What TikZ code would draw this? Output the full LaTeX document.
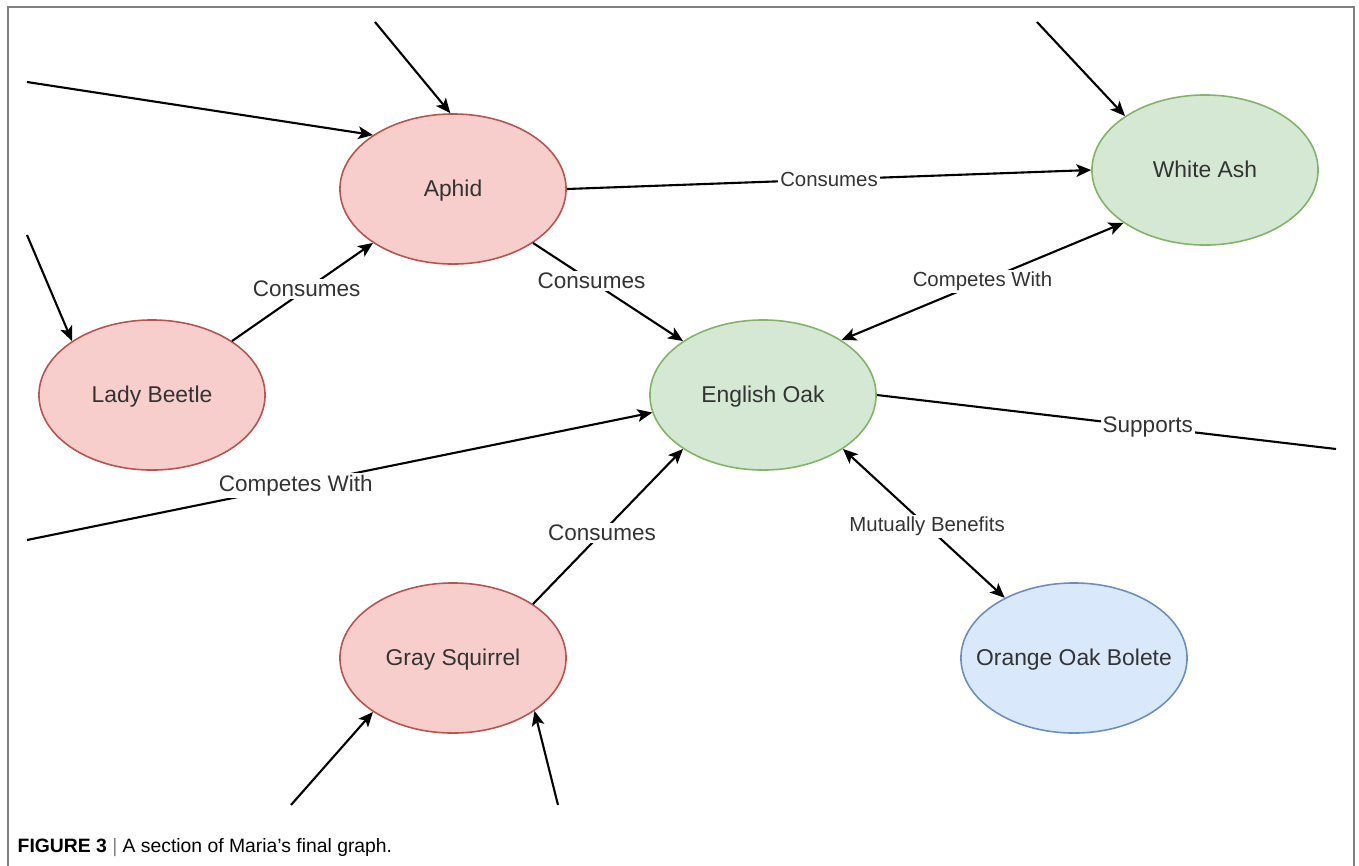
\documentclass[tikz,border=0pt]{standalone}
\usepackage{fontspec}
\setmainfont{Liberation Sans}
\usepackage{xcolor}
\usetikzlibrary{shapes.geometric,arrows.meta}
\definecolor{redfill}{HTML}{F8CECC}
\definecolor{redline}{HTML}{B85450}
\definecolor{greenfill}{HTML}{D5E8D4}
\definecolor{greenline}{HTML}{82B366}
\definecolor{bluefill}{HTML}{DAE8FC}
\definecolor{blueline}{HTML}{6C8EBF}
\definecolor{txtgray}{HTML}{333333}
\definecolor{framegray}{HTML}{808080}

\begin{document}
\begin{tikzpicture}[x=0.01cm,y=-0.01cm,
		>={Stealth[length=4.2pt,width=3.6pt,inset=1pt]},
		species/.style={ellipse,draw,line width=0.45pt,minimum width=2.26cm,minimum height=1.5cm,
			inner xsep=-8pt,inner ysep=0pt,text height=4.4pt,text depth=0pt,
			text=txtgray,font=\fontsize{6.5}{8}\selectfont},
		consumer/.style={species,fill=redfill,draw=redline},
		plant/.style={species,fill=greenfill,draw=greenline},
		fungus/.style={species,fill=bluefill,draw=blueline},
		plainlink/.style={line width=0.6pt},
		link/.style={plainlink,->},
		mutual/.style={plainlink,<->},
		tag/.style={fill=white,inner sep=0.6pt,text=txtgray,font=\fontsize{6.4}{7.5}\selectfont},
		smalltag/.style={tag,font=\fontsize{5.8}{7}\selectfont}]
		\useasboundingbox (0,0) rectangle (1359,866);
		\draw [framegray, line width=0.35pt] (8,866) -- (8,7) -- (1354,7) -- (1354,866);

		\node [consumer] (aphid) at (453,189) {Aphid};
		\node [plant] (ash) at (1205,170) {White Ash};
		\node [consumer] (beetle) at (152,395) {Lady Beetle};
		\node [plant] (oak) at (763,395) {English Oak};
		\node [consumer] (squirrel) at (453,658) {Gray Squirrel};
		\node [fungus] (bolete) at (1074,658) {Orange Oak Bolete};

		\coordinate (inA) at (27,82);
		\coordinate (inB) at (375,22);
		\coordinate (inC) at (27,235);
		\coordinate (inD) at (1037,22);
		\coordinate (inE) at (27,540);
		\coordinate (outF) at (1336,449);
		\coordinate (inG) at (291,805);
		\coordinate (inH) at (558,805);

		\draw [link] (inA) -- (aphid.146);
		\draw [link] (inB) -- (aphid.92);
		\draw [link] (inC) -- (beetle.146);
		\draw [link] (inD) -- (ash.146);
		\draw [link] (beetle.34) -- node [tag, pos=0.53] {Consumes} (aphid.214);
		\draw [link] (aphid.east) -- node [smalltag] {Consumes} (ash.west);
		\draw [link] (aphid.326) -- node [tag, pos=0.39] {Consumes} (oak.146);
		\draw [mutual] (oak.35) -- node [smalltag] {Competes With} (ash.213);
		\draw [plainlink] (oak.east) -- node [tag, pos=0.59] {Supports} (outF);
		\draw [link] (inE) -- node [tag, pos=0.43] {Competes With} (oak.189);
		\draw [link] (squirrel.34) -- node [tag, pos=0.46] {Consumes} (oak.214);
		\draw [mutual] (oak.326) -- node [smalltag, pos=0.52] {Mutually Benefits} (bolete.139);
		\draw [link] (inG) -- (squirrel.214);
		\draw [link] (inH) -- (squirrel.327);

		\node [anchor=west, inner sep=0pt, font=\fontsize{5.5}{6.5}\selectfont] (caption) at (17,848)
			{\textbf{FIGURE 3} {\color{framegray}|} A section of Maria’s final graph.};
	\end{tikzpicture}
\end{document}
